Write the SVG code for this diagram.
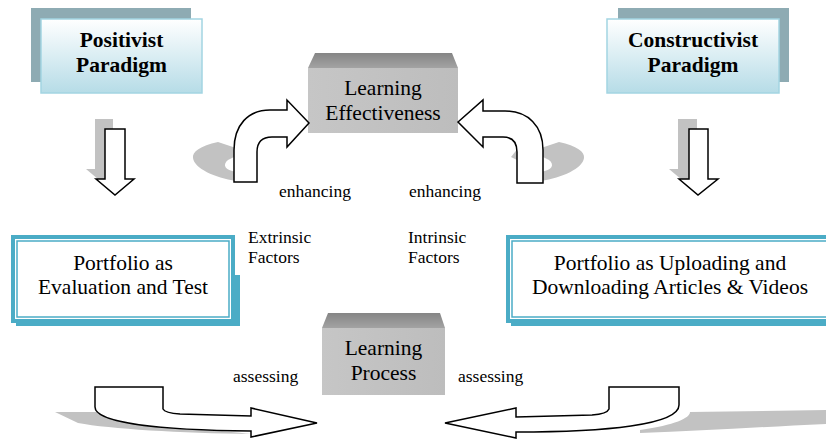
<svg xmlns="http://www.w3.org/2000/svg" width="826" height="441" viewBox="0 0 826 441" font-family="Liberation Serif, DejaVu Serif, serif">
  <defs>
    <linearGradient id="paraGrad" x1="0" y1="0" x2="0" y2="1">
      <stop offset="0" stop-color="#ffffff"/>
      <stop offset="1" stop-color="#b6dce7"/>
    </linearGradient>
    <linearGradient id="topGrad" x1="0" y1="0" x2="0" y2="1">
      <stop offset="0" stop-color="#858585"/>
      <stop offset="1" stop-color="#a3a3a3"/>
    </linearGradient>
    <linearGradient id="frontGrad" x1="0" y1="0" x2="1" y2="0">
      <stop offset="0" stop-color="#c6c6c6"/>
      <stop offset="1" stop-color="#bdbdbd"/>
    </linearGradient>
  </defs>
  <style>
    text { font-family: 'Liberation Serif', 'DejaVu Serif', serif; }
    .para-shadow { fill: #8eabb3; }
    .para-box { fill: url(#paraGrad); stroke: #a3d5e2; stroke-width: 1.5; }
    .para-text { font-weight: bold; font-size: 21.5px; fill: #000; text-anchor: middle; }
    .cube-top { fill: url(#topGrad); }
    .cube-front { fill: url(#frontGrad); }
    .cube-text { font-size: 21.5px; fill: #000; text-anchor: middle; }
    .port-shadow { fill: #4bacc6; }
    .port-outer { fill: #ffffff; stroke: #4bacc6; stroke-width: 4; }
    .port-inner { fill: none; stroke: #4bacc6; stroke-width: 1.5; }
    .port-text { font-size: 21.5px; fill: #000; text-anchor: middle; }
    .label { font-size: 17.5px; fill: #000; }
    .arrow { fill: #ffffff; stroke: #000; stroke-width: 1.5; stroke-linejoin: miter; }
    .shadow { fill: #c2c2c2; }
  </style>

  <g id="positivist">
    <rect class="para-shadow" x="31" y="8" width="160" height="74"/>
    <rect class="para-box" x="41" y="19" width="161" height="74"/>
    <text class="para-text" x="121.5" y="47">Positivist</text>
    <text class="para-text" x="121.5" y="72">Paradigm</text>
  </g>

  <g id="constructivist">
    <rect class="para-shadow" x="618" y="8" width="171" height="74"/>
    <rect class="para-box" x="607" y="19" width="172" height="74"/>
    <text class="para-text" x="693" y="47">Constructivist</text>
    <text class="para-text" x="693" y="72">Paradigm</text>
  </g>

  <g id="learning-effectiveness">
    <polygon class="cube-top" points="315,53 452,53 458,68 308,68"/>
    <rect class="cube-front" x="308" y="68" width="150" height="65"/>
    <text class="cube-text" x="383" y="95">Learning</text>
    <text class="cube-text" x="383" y="120">Effectiveness</text>
  </g>

  <g id="portfolio-evaluation">
    <rect class="port-shadow" x="16" y="275" width="224" height="51"/>
    <rect class="port-outer" x="13" y="237" width="220" height="84"/>
    <rect class="port-inner" x="17" y="241" width="212" height="76"/>
    <text class="port-text" x="123" y="270">Portfolio as</text>
    <text class="port-text" x="123" y="294">Evaluation and Test</text>
  </g>

  <g id="portfolio-uploading">
    <rect class="port-shadow" x="511" y="275" width="330" height="51"/>
    <rect class="port-outer" x="508" y="237" width="330" height="84"/>
    <rect class="port-inner" x="512" y="241" width="330" height="76"/>
    <text class="port-text" x="670" y="270">Portfolio as Uploading and</text>
    <text class="port-text" x="670" y="294">Downloading Articles &amp; Videos</text>
  </g>

  <g id="learning-process">
    <polygon class="cube-top" points="328,313 440,313 445,328 322,328"/>
    <rect class="cube-front" x="322" y="328" width="123" height="67"/>
    <text class="cube-text" x="383.5" y="355">Learning</text>
    <text class="cube-text" x="383.5" y="380">Process</text>
  </g>

  <g id="connectors">
    <path class="shadow" d="M95,119 L113,119 L113,169 L122,169 L105,185 L86,169 L95,169 Z"/>
    <path class="arrow" d="M105,129 L125,129 L125,179 L134,179 L115,195 L96,179 L105,179 Z"/>
    <path class="shadow" d="M678,119 L697,119 L697,169 L706,169 L688,185 L669,169 L678,169 Z"/>
    <path class="arrow" d="M689,129 L708,129 L708,179 L718,179 L698,195 L679,179 L689,179 Z"/>

    <path class="shadow" d="M236,148 L218,142 C200,146 192,152 193,158 C194,168 215,178 236,181 L236,172 C225,170 222,165 228,160 L236,156 Z"/>
    <path class="shadow" d="M541,148 L559,142 C577,146 585,152 584,158 C583,168 562,178 541,181 L541,172 C552,170 555,165 549,160 L541,156 Z"/>
    <path class="shadow" d="M519,147 L511,157 L519,161 Z"/>

    <path class="arrow" d="M309,123 L287,100 L287,110 L270,110 C248,110 234,125 234,150 L234,182 L257,182 L257,152 C257,142 262,137 272,137 L287,137 L287,147 Z"/>
    <path class="arrow" d="M458,122 L483,100 L483,111 L505,111 C528,111 543,126 543,150 L543,183 L517,183 L517,152 C517,142 512,137 503,137 L483,137 L483,147 Z"/>

    <path class="shadow" d="M55,412 L97,412 L140,422 C190,428 220,431 252,434 C180,433 110,429 78,423 Z"/>
    <path class="shadow" d="M640,430 C675,425 690,418 690,412 L826,410 L826,424 C760,427 700,431 640,433 Z"/>

    <path class="arrow" d="M95,387 L163,387 L163,409 Q165,413 180,414 L251,416 L251,408 L317,423 L251,437 L251,431 C160,430 95,423 95,407 Z"/>
    <path class="arrow" d="M679,387 L609,387 L609,409 Q607,414 592,415 L516,417 L516,408 L445,423 L516,438 L516,432 C605,432 679,425 679,405 Z"/>

    <text class="label" x="279" y="197">enhancing</text>
    <text class="label" x="409" y="197">enhancing</text>
    <text class="label" x="248" y="243">Extrinsic</text>
    <text class="label" x="248" y="263">Factors</text>
    <text class="label" x="408" y="243">Intrinsic</text>
    <text class="label" x="408" y="263">Factors</text>
    <text class="label" x="233" y="382">assessing</text>
    <text class="label" x="458" y="382">assessing</text>
  </g>
</svg>
